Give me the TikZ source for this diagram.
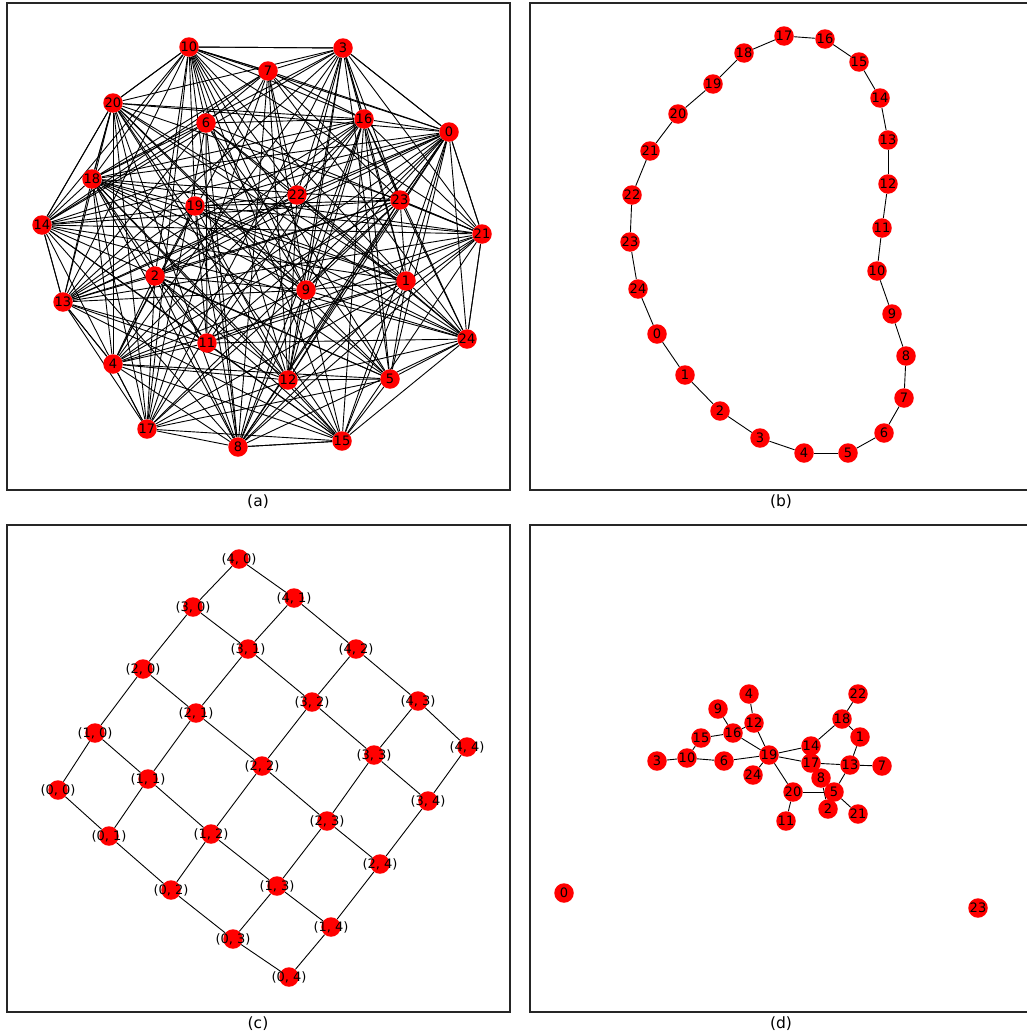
\documentclass[tikz,border=0pt]{standalone}
\usepackage{fontspec}
\setmainfont{DejaVu Sans}
\pgfdeclarelayer{bg}
\pgfsetlayers{bg,main}
\begin{document}
\begin{tikzpicture}[x=1pt,y=-1pt,
  vtx/.style={circle,fill=red,draw=none,minimum size=19.5pt,inner sep=0pt},
  lbl/.style={inner sep=0pt,font=\fontsize{13}{13}\selectfont,text=black},
  lnk/.style={draw=black,line width=0.9pt},
  pframe/.style={draw=black!85,line width=1.1pt},
  captxt/.style={font=\fontsize{15.5}{15.5}\selectfont}]
\useasboundingbox (0,0) rectangle (1026,1036);
% frames
\draw[pframe] (7,3) rectangle (510,490);
\draw[pframe] (530,3) rectangle (1030,490);
\draw[pframe] (7,525) rectangle (510,1012);
\draw[pframe] (530,525) rectangle (1030,1012);
\node[captxt] (capa) at (258,502) {(a)};
\node[captxt] (capb) at (781,502) {(b)};
\node[captxt] (capc) at (258,1024) {(c)};
\node[captxt] (capd) at (781,1024) {(d)};
% ---------- panel (a)
\foreach \n/\x/\y in {10/189/47, 3/343/48, 7/268/71, 20/113/103, 6/206/123, 16/364/119, 0/449/132, 18/92/179, 19/195/206, 22/297/195, 23/400/200, 14/42/225, 21/482/234, 2/155/276, 9/306/290, 1/406/281, 13/63/302, 24/467/339, 11/207/343, 4/113/364, 12/288/380, 5/390/379, 17/147/429, 8/238/447, 15/342/441}
  {\node[vtx] (a\n) at (\x,\y) {}; \node[lbl] at (a\n) {\n};}
\begin{pgfonlayer}{bg}
\pgfmathsetseed{4242}
\foreach \i in {0,...,23}{
  \pgfmathtruncatemacro\s{\i+1}
  \foreach \j in {\s,...,24}{
    \pgfmathtruncatemacro\e{rnd<0.72}
    \ifnum\e=1 \draw[lnk] (a\i) -- (a\j);\fi
  }
}
\foreach \u/\v in {10/3, 3/0, 0/21, 21/24, 24/15, 15/8, 8/17, 17/4, 4/13, 13/14, 14/18, 18/20, 20/10, 14/20, 10/7, 3/7, 3/16, 0/16, 0/23, 21/23}
  \draw[lnk] (a\u) -- (a\v);
\end{pgfonlayer}
% ---------- panel (b)
\foreach \n/\x/\y in {17/784/36, 16/825/39, 15/859/62, 14/880/98, 13/888/140, 12/888/184, 11/882/228, 10/877/271, 9/892/314, 8/906/356, 7/904/398, 6/884/433, 5/848/453, 4/804/453, 3/760/438, 2/720/411, 1/685/375, 0/657/334, 24/638/289, 23/630/242, 22/632/195, 21/650/151, 20/678/114, 19/713/84, 18/744/53}
  {\node[vtx] (b\n) at (\x,\y) {}; \node[lbl] at (b\n) {\n};}
\begin{pgfonlayer}{bg}
\foreach \i in {0,...,24}{
  \pgfmathtruncatemacro\k{mod(\i+1,25)}
  \draw[lnk] (b\i) -- (b\k);
}
\end{pgfonlayer}
% ---------- panel (c)
\foreach \i/\j/\x/\y in {4/0/239/559, 4/1/294/598, 4/2/356/649, 4/3/418/701, 4/4/467/747,
  3/0/193/607, 3/1/248/649, 3/2/312/702, 3/3/374/755, 3/4/428/801,
  2/0/143/669, 2/1/196/713, 2/2/262/766, 2/3/327/821, 2/4/380/864,
  1/0/95/733, 1/1/148/779, 1/2/211/834, 1/3/277/886, 1/4/331/927,
  0/0/58/790, 0/1/109/836, 0/2/171/890, 0/3/233/939, 0/4/289/977}
  {\node[vtx] (c\i\j) at (\x,\y) {}; \node[lbl] at (c\i\j) {(\i, \j)};}
\begin{pgfonlayer}{bg}
\foreach \i in {0,...,4}{
  \foreach \j in {0,...,3}{
    \pgfmathtruncatemacro\k{\j+1}
    \draw[lnk] (c\i\j) -- (c\i\k);
    \draw[lnk] (c\j\i) -- (c\k\i);
  }
}
\end{pgfonlayer}
% ---------- panel (d)
\foreach \n/\x/\y in {4/749/694, 9/718/709, 12/754/723, 22/858/694, 18/842/719, 16/733/733, 15/701/738, 1/860/737, 14/811/746, 3/657/761, 10/687/758, 6/724/761, 19/769/755, 17/811/763, 13/850/765, 7/882/766, 24/753/775, 8/821/778, 20/793/792, 5/834/792, 2/828/809, 21/858/814, 11/786/821, 0/564/893, 23/978/908}
  {\node[vtx] (d\n) at (\x,\y) {}; \node[lbl] at (d\n) {\n};}
\begin{pgfonlayer}{bg}
\foreach \u/\v in {3/10, 10/15, 10/6, 15/16, 9/16, 16/12, 4/12, 16/19, 12/19, 6/19, 19/14, 19/17, 19/24, 19/20, 14/18, 18/22, 18/1, 1/13, 17/13, 13/7, 13/5, 20/5, 20/11, 8/2, 5/21}
  \draw[lnk] (d\u) -- (d\v);
\end{pgfonlayer}
\end{tikzpicture}
\end{document}
